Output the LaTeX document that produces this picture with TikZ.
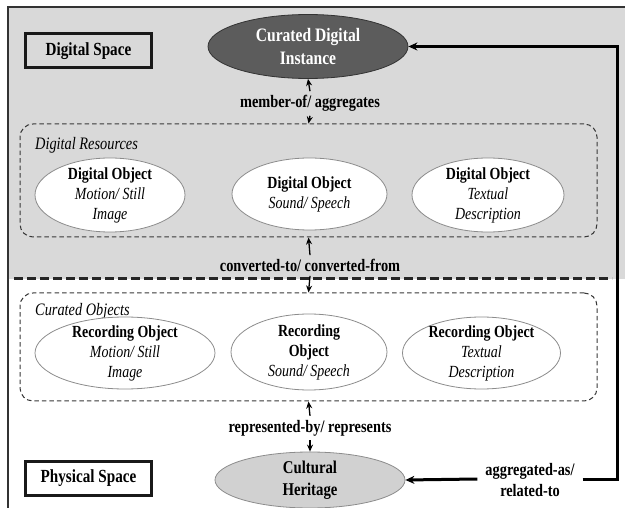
\documentclass[tikz,border=0pt]{standalone}
\usepackage{fontspec}
\setmainfont{Liberation Serif}[FakeStretch=0.82]
\usetikzlibrary{shapes.geometric,arrows.meta}
\definecolor{spacegray}{gray}{0.85}
\definecolor{instancegray}{gray}{0.36}
\definecolor{heritagegray}{gray}{0.82}
\definecolor{rimgray}{gray}{0.55}
\definecolor{dashgray}{gray}{0.22}
\tikzset{
  frame/.style={draw=black!80, line width=1.6pt},
  spacebox/.style={draw=black!90, line width=3pt, minimum width=126pt, minimum height=34pt,
    inner sep=0pt, font=\bfseries\fontsize{18.5}{21}\selectfont},
  groupbox/.style={draw=dashgray, line width=1pt, dash pattern=on 4.5pt off 3pt,
    rounded corners=13pt, inner sep=0pt},
  grouptitle/.style={anchor=west, inner sep=0pt, font=\itshape\fontsize{17.5}{20}\selectfont},
  % the ellipse size is given by minimum width/height, not by the text
  ellbase/.style={ellipse, line width=0.8pt, inner xsep=0pt, inner ysep=-14pt, align=center},
  objell/.style={ellbase, draw=rimgray, fill=white, font=\fontsize{17}{20}\selectfont},
  rel/.style={inner sep=4pt, align=center, font=\bfseries\fontsize{17.5}{20.5}\selectfont},
  conn/.style={line width=1.3pt, -{Stealth[length=7pt,width=6pt]}},
  bigconn/.style={line width=3pt, -{Stealth[length=9pt,width=8pt]}},
}
\begin{document}
\begin{tikzpicture}[x=1pt,y=-1pt]
\useasboundingbox (0,0) rectangle (625,508);

% upper (digital) half
\fill[spacegray] (9,8) rectangle (625,279);
\draw[frame] (8,508) -- (8,7) -- (625,7);
\draw[black!85, line width=3pt, dash pattern=on 9pt off 4pt] (14,278.5) -- (612,278.5);

% space labels
\node[spacebox, fill=spacegray] (ds) at (88.5,51) {Digital Space};
\node[spacebox, fill=white] (ps) at (88.5,478.5) {Physical Space};

% curated digital instance
\node[ellbase, draw=black!80, fill=instancegray, text=white, minimum width=200pt,
  minimum height=64pt, font=\bfseries\fontsize{19}{22.5}\selectfont]
  (cdi) at (308,46.5) {Curated Digital\\Instance};

% digital resources
\node[groupbox, minimum width=577pt, minimum height=113pt] (dr) at (308.5,180.5) {};
\node[grouptitle] (drt) at (35,145) {Digital Resources};
\node[objell, minimum width=150pt, minimum height=74pt] (d1) at (110,195)
  {\textbf{Digital Object}\\\textit{Motion/ Still}\\\textit{Image}};
\node[objell, minimum width=155pt, minimum height=72pt] (d2) at (309.5,194)
  {\textbf{Digital Object}\\\textit{Sound/ Speech}};
\node[objell, minimum width=152pt, minimum height=74pt] (d3) at (488,195)
  {\textbf{Digital Object}\\\textit{Textual}\\\textit{Description}};

% curated objects
\node[groupbox, minimum width=577pt, minimum height=108pt] (co) at (308.5,347) {};
\node[grouptitle] (cot) at (35,311) {Curated Objects};
\node[objell, minimum width=180pt, minimum height=72pt] (r1) at (125,353)
  {\textbf{Recording Object}\\\textit{Motion/ Still}\\\textit{Image}};
\node[objell, minimum width=156pt, minimum height=76pt] (r2) at (309,352)
  {\textbf{Recording}\\\textbf{Object}\\\textit{Sound/ Speech}};
\node[objell, minimum width=158pt, minimum height=72pt] (r3) at (481.5,353)
  {\textbf{Recording Object}\\\textit{Textual}\\\textit{Description}};

% cultural heritage
\node[ellbase, draw=rimgray, fill=heritagegray, minimum width=190pt,
  minimum height=56pt, font=\bfseries\fontsize{18}{21.5}\selectfont]
  (ch) at (310,480) {Cultural\\Heritage};

% relation labels
\node[rel] (m) at (310,103.5) {member-of/ aggregates};
\node[rel] (c) at (310,265.5) {converted-to/ converted-from};
\node[rel] (r) at (310,428) {represented-by/ represents};
\node[rel, inner sep=0pt] (a) at (530,480) {aggregated-as/\\related-to};

% connectors
\draw[conn] (m.north) -- (cdi.south);
\draw[conn] (m.south) -- (dr.north);
\draw[conn] (c.north) -- (dr.south);
\draw[conn] (c.south) -- (co.north);
\draw[conn] (r.north) -- (co.south);
\draw[conn] (r.south) -- (ch.north);
\coordinate (bend) at (617,479);
\draw[bigconn] ([xshift=8pt]a.east |- bend) -- (bend) |- (cdi.east);
\draw[bigconn] ([xshift=-8pt]a.west |- bend) -- (ch.east);
\end{tikzpicture}
\end{document}
